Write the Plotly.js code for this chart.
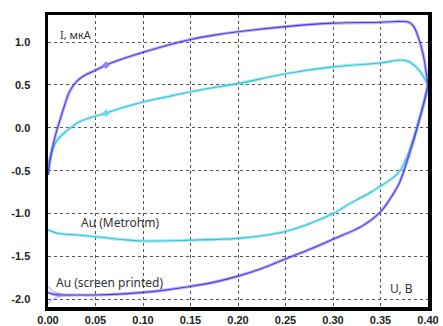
<!DOCTYPE html>
<html>
<head>
<meta charset="utf-8">
<script src="https://cdn.plot.ly/plotly-3.0.1.min.js"></script>
<style>html,body{margin:0;padding:0;background:#fff;}#chart{width:443px;height:326px;}</style>
</head>
<body>
<div id="chart"></div>
<script>
// Au (screen printed) — anodic (upper) and cathodic (lower) branches
const blueUpX = [0, 0.002, 0.005, 0.008, 0.012, 0.018, 0.023, 0.031, 0.04, 0.05, 0.061, 0.08, 0.10, 0.125, 0.15, 0.175, 0.20, 0.25, 0.30, 0.35, 0.372, 0.38, 0.385, 0.39, 0.395, 0.40];
const blueUpY = [-0.55, -0.38, -0.22, -0.08, 0.07, 0.28, 0.43, 0.55, 0.62, 0.67, 0.73, 0.81, 0.88, 0.96, 1.03, 1.08, 1.12, 1.18, 1.22, 1.23, 1.24, 1.23, 1.18, 1.05, 0.85, 0.5];
const blueDownX = [0.40, 0.397, 0.393, 0.389, 0.385, 0.38, 0.375, 0.37, 0.36, 0.35, 0.33, 0.30, 0.275, 0.25, 0.225, 0.20, 0.175, 0.15, 0.125, 0.10, 0.075, 0.05, 0.03, 0.015, 0.005, 0];
const blueDownY = [0.5, 0.35, 0.18, 0.02, -0.14, -0.32, -0.49, -0.64, -0.83, -0.98, -1.15, -1.3, -1.42, -1.53, -1.64, -1.73, -1.8, -1.85, -1.89, -1.92, -1.94, -1.95, -1.95, -1.95, -1.94, -1.92];
// splay of the repeated cycles at the left vertex
const blueSplayX = [0, 0.006, 0.015, 0.025];
const blueSplayHiY = [-1.85, -1.91, -1.94, -1.95];
const blueSplayLoY = [-2.05, -1.99, -1.96, -1.95];

// Au (Metrohm)
const cyanUpX = [0, 0.002, 0.006, 0.01, 0.016, 0.025, 0.033, 0.045, 0.061, 0.08, 0.10, 0.125, 0.15, 0.175, 0.20, 0.25, 0.30, 0.35, 0.372, 0.38, 0.39, 0.395, 0.40];
const cyanUpY = [-0.55, -0.38, -0.22, -0.14, -0.07, 0.01, 0.07, 0.12, 0.17, 0.24, 0.30, 0.36, 0.42, 0.47, 0.515, 0.63, 0.71, 0.755, 0.79, 0.77, 0.68, 0.6, 0.5];
const cyanDownX = [0.40, 0.397, 0.393, 0.389, 0.385, 0.38, 0.375, 0.37, 0.36, 0.35, 0.34, 0.32, 0.30, 0.275, 0.25, 0.225, 0.20, 0.15, 0.10, 0.075, 0.05, 0.03, 0.01, 0];
const cyanDownY = [0.5, 0.35, 0.18, 0.02, -0.12, -0.28, -0.41, -0.51, -0.61, -0.68, -0.75, -0.87, -1.0, -1.12, -1.21, -1.26, -1.29, -1.31, -1.32, -1.3, -1.27, -1.25, -1.23, -1.19];

// small markers on the anodic branches
const markX = [0.061];
const blueMarkY = [0.73];
const cyanMarkY = [0.17];

const xTicks = [0, 0.05, 0.10, 0.15, 0.20, 0.25, 0.30, 0.35, 0.40];
const xTickText = ['0.00', '0.05', '0.10', '0.15', '0.20', '0.25', '0.30', '0.35', '0.40'];
const yTicks = [1.0, 0.5, 0.0, -0.5, -1.0, -1.5, -2.0];
const yTickText = ['1.0', '0.5', '0.0', '-0.5', '-1.0', '-1.5', '-2.0'];

const labelText = ['I, мкА', 'Au (Metrohm)', 'Au (screen printed)', 'U, B'];

const BLUE = '#4a3ee0', BLUE_L = 'rgba(120,110,240,0.5)';
const CYAN = '#2fc6dc', CYAN_L = 'rgba(110,215,235,0.55)';

const traces = [];
function addBranch(x, y, dark, light) {
  traces.push({x: x, y: y, mode: 'lines', line: {color: light, width: 3.2, shape: 'spline', smoothing: 1}, hoverinfo: 'skip', showlegend: false});
  traces.push({x: x, y: y, mode: 'lines', line: {color: dark, width: 1.1, shape: 'spline', smoothing: 1}, hoverinfo: 'skip', showlegend: false});
}
addBranch(cyanUpX, cyanUpY, CYAN, CYAN_L);
addBranch(cyanDownX, cyanDownY, CYAN, CYAN_L);
addBranch(blueUpX, blueUpY, BLUE, BLUE_L);
addBranch(blueDownX, blueDownY, BLUE, BLUE_L);
traces.push({x: blueSplayX, y: blueSplayHiY, mode: 'lines', line: {color: BLUE_L, width: 1.2, shape: 'spline'}, showlegend: false});
traces.push({x: blueSplayX, y: blueSplayLoY, mode: 'lines', line: {color: BLUE_L, width: 1.2, shape: 'spline'}, showlegend: false});
traces.push({x: markX, y: blueMarkY, mode: 'markers', marker: {symbol: 'diamond', size: 6, color: '#8f86f2'}, showlegend: false});
traces.push({x: markX, y: cyanMarkY, mode: 'markers', marker: {symbol: 'diamond', size: 6, color: '#6fd8ea'}, showlegend: false});

const tickFont = {family: 'Liberation Sans, Arial, sans-serif', size: 11, color: '#222', weight: 'bold'};
const lblFont = {family: 'Noto Sans, Liberation Sans, sans-serif', size: 12, color: '#333'};

const layout = {
  width: 443, height: 326,
  margin: {l: 48, r: 15, t: 15, b: 19, pad: 0},
  paper_bgcolor: '#fff', plot_bgcolor: '#fff',
  showlegend: false,
  xaxis: {
    range: [0, 0.40], tickvals: xTicks, ticktext: xTickText,
    showline: true, mirror: true, linecolor: '#000', linewidth: 3.5,
    showgrid: true, gridcolor: '#555', griddash: 'dot', gridwidth: 1,
    zeroline: false, ticks: '', ticklen: 0,
    tickfont: tickFont
  },
  yaxis: {
    range: [-2.09, 1.315], tickvals: yTicks, ticktext: yTickText,
    showline: true, mirror: true, linecolor: '#000', linewidth: 3.5,
    showgrid: true, gridcolor: '#555', griddash: 'dot', gridwidth: 1,
    zeroline: false, ticks: 'outside', ticklen: 12, tickcolor: 'rgba(0,0,0,0)',
    tickfont: tickFont
  },
  annotations: [
    {x: 0.029, y: 1.09, text: labelText[0], showarrow: false, font: {family: 'Noto Sans, sans-serif', size: 11, color: '#333'}},
    {x: 0.076, y: -1.106, text: labelText[1], showarrow: false, font: lblFont},
    {x: 0.065, y: -1.80, text: labelText[2], showarrow: false, font: lblFont},
    {x: 0.372, y: -1.87, text: labelText[3], showarrow: false, font: lblFont}
  ]
};

Plotly.newPlot('chart', traces, layout, {staticPlot: true, displayModeBar: false});
</script>
</body>
</html>
